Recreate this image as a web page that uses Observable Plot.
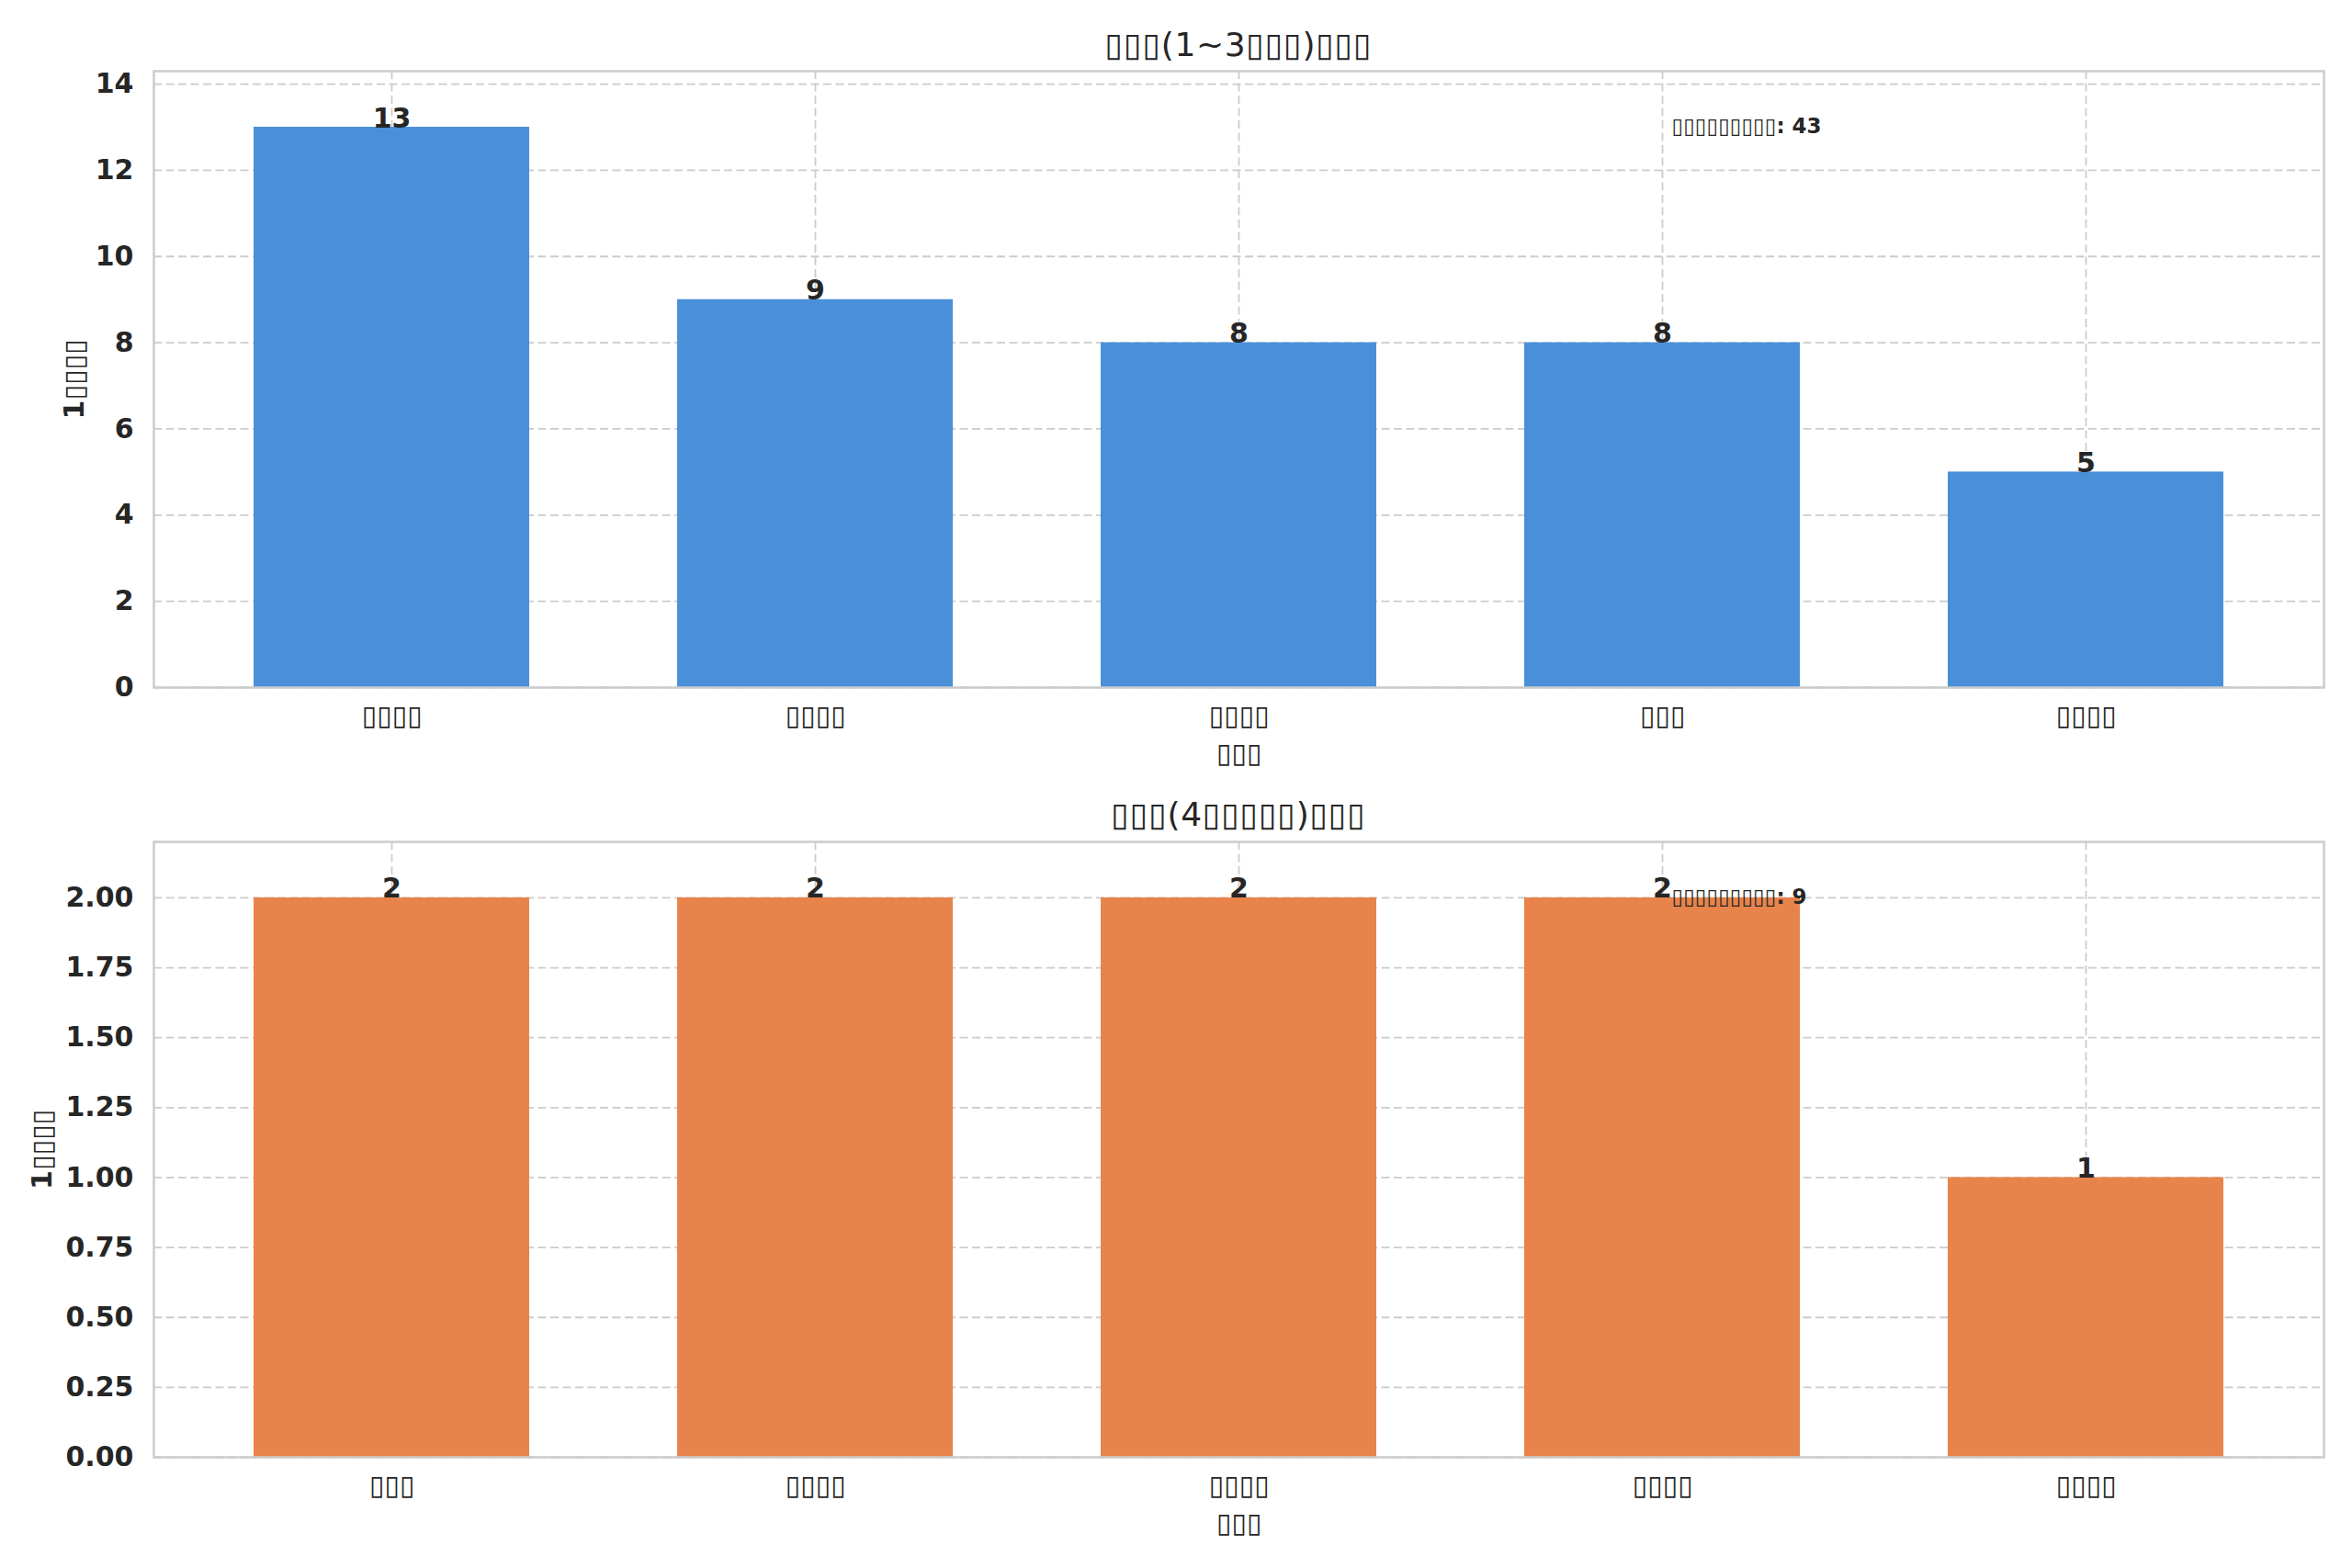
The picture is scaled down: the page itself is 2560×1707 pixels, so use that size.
<!DOCTYPE html>
<html><head><meta charset="utf-8">
<script src="https://cdn.jsdelivr.net/npm/d3@7"></script>
<script src="https://cdn.jsdelivr.net/npm/@observablehq/plot@0.6"></script>
<style>
body{margin:0;background:#fff;width:2560px;height:1707px;overflow:hidden;font-family:"DejaVu Sans";color:#262626}
.title{width:2560px;box-sizing:border-box;padding-left:167px;padding-right:31px;text-align:center;font-size:36px;line-height:36px;white-space:nowrap;letter-spacing:0.6px}
svg{display:block}
</style></head><body>
<div id="t1" class="title" style="height:67px;padding-top:31px"></div>
<div id="c1"></div>
<div id="t2" class="title" style="height:61px;padding-top:24px"></div>
<div id="c2"></div>
<script>
// Text (rendered as missing-glyph boxes in the reference)
const topTitle = "▯▯▯(1~3▯▯▯)▯▯▯";
const bottomTitle = "▯▯▯(4▯▯▯▯▯)▯▯▯";
const xLabel = "▯▯▯";
const yLabel = "1▯▯▯▯";
const notePrefix = "▯▯▯▯▯▯▯▯▯";

// Top chart
const topCategories = ["▯▯▯▯", "▯▯▯▯", "▯▯▯▯", "▯▯▯", "▯▯▯▯"];
const topValues = [13, 9, 8, 8, 5];
const topTicks = [0, 2, 4, 6, 8, 10, 12, 14];

// Bottom chart
const bottomCategories = ["▯▯▯", "▯▯▯▯", "▯▯▯▯", "▯▯▯▯", "▯▯▯▯"];
const bottomValues = [2, 2, 2, 2, 1];
const bottomTicks = [0, 0.25, 0.5, 0.75, 1, 1.25, 1.5, 1.75, 2];

const gridStyle = {stroke: "#cccccc", strokeOpacity: 1, strokeWidth: 1.8, strokeDasharray: "9,4.5"};

function chart(cats, vals, color, ticks, fmt, height, marginBottom, yLabelDx) {
  const data = vals.map((v, i) => ({i, v}));
  const yMax = d3.max(vals) * 1.1;
  const note = `${notePrefix}: ${d3.sum(vals)}`;
  return Plot.plot({
    width: 2560, height, marginLeft: 167, marginRight: 31, marginTop: 10, marginBottom,
    style: {fontFamily: "DejaVu Sans", color: "#262626", background: "white", overflow: "visible"},
    x: {type: "band", domain: d3.range(cats.length), paddingInner: 0.35, paddingOuter: 0.2325},
    y: {domain: [0, yMax]},
    marks: [
      Plot.gridY(ticks, gridStyle),
      Plot.gridX(d3.range(cats.length), gridStyle),
      Plot.barY(data, {x: "i", y: "v", fill: color}),
      Plot.text(data, {x: "i", y: "v", text: d => String(d.v), lineAnchor: "bottom", fontSize: 30, fontWeight: "bold", fill: "#262626"}),
      Plot.text([note], {x: () => 3, y: () => yMax * 0.91, text: d => d, textAnchor: "start", lineAnchor: "middle", dx: 10, fontSize: 23, fontWeight: "bold", fill: "#262626"}),
      Plot.axisY(ticks, {tickSize: 0, tickPadding: 22, tickFormat: fmt, fontSize: 30, fontWeight: "bold", label: null}),
      Plot.axisX(d3.range(cats.length), {tickSize: 0, tickPadding: 19, tickFormat: i => cats[i], fontSize: 30, label: null}),
      Plot.text([xLabel], {frameAnchor: "bottom", dy: 72, textAnchor: "middle", lineAnchor: "middle", text: d => d, fontSize: 30, fill: "#262626"}),
      Plot.text([yLabel], {frameAnchor: "left", dx: yLabelDx, rotate: -90, textAnchor: "middle", lineAnchor: "middle", text: d => d, fontSize: 30, fontWeight: "bold", fill: "#262626"}),
      Plot.frame({stroke: "#cccccc", strokeWidth: 2.5})
    ]
  });
}

document.getElementById("t1").textContent = topTitle;
document.getElementById("t2").textContent = bottomTitle;
document.getElementById("c1").append(chart(topCategories, topValues, "#4a90d9", topTicks, d => String(d), 778, 97, -86));
document.getElementById("c2").append(chart(bottomCategories, bottomValues, "#e8844b", bottomTicks, d3.format(".2f"), 801, 121, -121));
</script>
</body></html>
